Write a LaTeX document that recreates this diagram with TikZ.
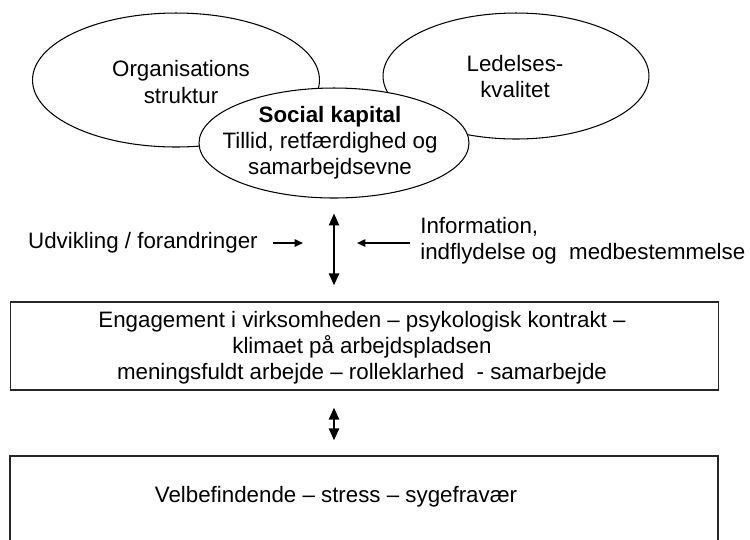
\documentclass[tikz,border=0pt]{standalone}
\usepackage{fontspec}
\setmainfont{Liberation Sans}
\usepackage{tikz}
\usetikzlibrary{positioning, calc, arrows.meta, shapes.geometric}
\tikzset{
    ovalnode/.style={
        ellipse, draw=black, line width=0.6pt, inner sep=0pt
    },
    boxnode/.style={
        rectangle, draw=black!85, line width=0.8pt, fill=white, minimum width=14.16cm, inner sep=0pt
    },
    labeltext/.style={
        font=\fontsize{12.7}{14.8}\selectfont, inner sep=0pt, align=center
    },
    dblarrow/.style={
        {Triangle[width=5.8pt,length=6.8pt]}-{Triangle[width=5.8pt,length=6.8pt]}, line width=1.1pt
    },
    ptr/.style={
        -{Triangle[width=4.2pt,length=4.8pt]}, line width=1pt
    }
}

\begin{document}
\begin{tikzpicture}[x=0.02cm, y=-0.02cm]
    \useasboundingbox (0,0) rectangle (750,539);
    \clip (0,0) rectangle (750,539);

    % --- ELLIPSER ---
    \node[ovalnode, minimum width=5.74cm, minimum height=2.68cm] (org) at (176,80) {};
    \node[ovalnode, minimum width=5.32cm, minimum height=2.52cm] (led) at (516,76) {};
    \node[ovalnode, fill=white, minimum width=5.4cm, minimum height=2.2cm] (social) at (334,143) {};

    \node[labeltext] (orgtext) at (181,82) {Organisations\\[1pt]struktur};
    \node[labeltext] (ledtext) at (515,77) {Ledelses-\\kvalitet};
    \node[labeltext] (socialtext) at (330,143) {\textbf{Social kapital}\\Tillid, retfærdighed og\\samarbejdsevne};

    % --- PILE OG TEKST I MIDTEN ---
    \node[labeltext, anchor=east] (udv) at (258,243) {Udvikling / forandringer};
    \node[labeltext, anchor=west, align=left] (info) at (420,241) {Information,\\indflydelse og~ medbestemmelse};
    \coordinate (axis) at (334,243);

    % --- KASSER ---
    \node[boxnode, minimum height=1.76cm] (engage) at (364.5,346) {};
    \node[labeltext] (engagetext) at (362,348) {Engagement i virksomheden – psykologisk kontrakt –\\klimaet på arbejdspladsen\\meningsfuldt arbejde – rolleklarhed~ - samarbejde};
    \node[boxnode, minimum height=1.8cm] (wellbeing) at (364,501) {};
    \node[labeltext] (wellbeingtext) at (336,497) {Velbefindende – stress – sygefravær};

    \draw[dblarrow, shorten <=0.3cm, shorten >=0.32cm] (social.south) -- (social.south |- engage.north);
    \draw[dblarrow, shorten <=0.34cm, shorten >=0.3cm] (social.south |- engage.south) -- (social.south |- wellbeing.north);
    \draw[ptr, shorten <=0.3cm, shorten >=0.62cm] (udv.east |- axis) -- (axis);
    \draw[ptr, shorten <=0.2cm, shorten >=0.46cm] (info.west |- axis) -- (axis);
\end{tikzpicture}
\end{document}
